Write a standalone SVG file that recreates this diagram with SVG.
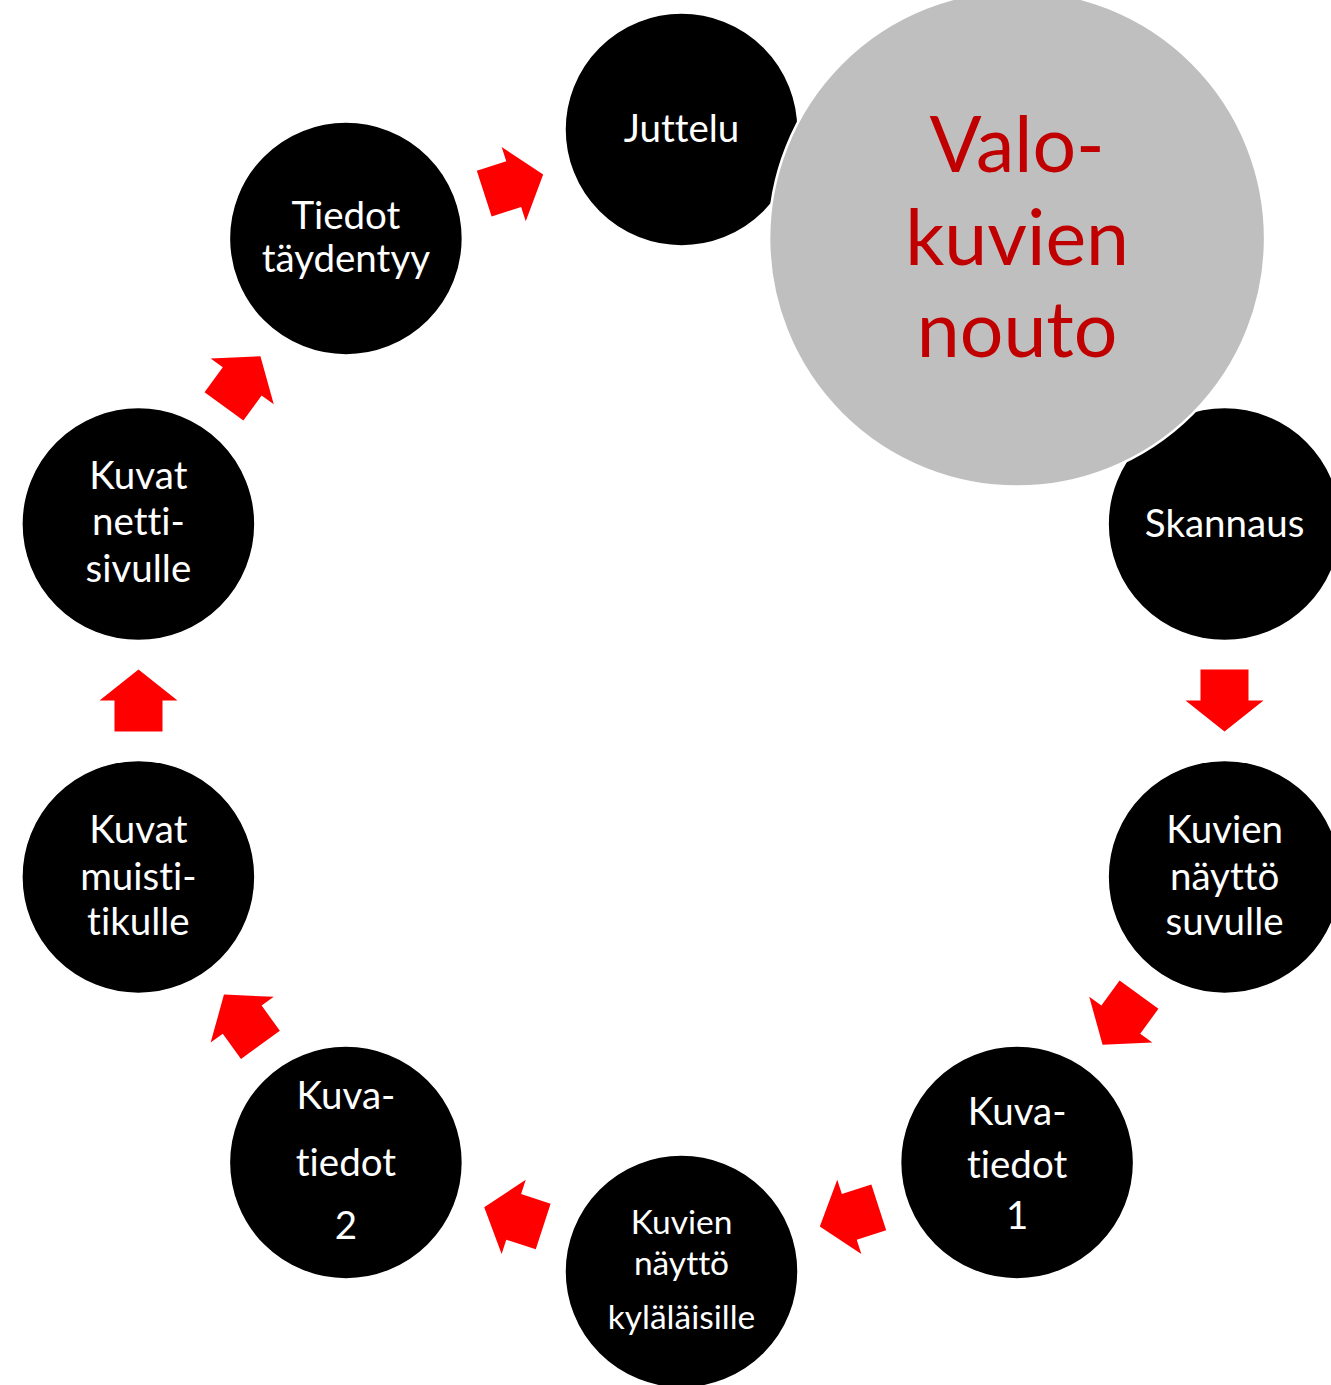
<svg xmlns="http://www.w3.org/2000/svg" width="1331" height="1385" viewBox="0 0 1331 1385">
<defs>
<style>
.node{fill:#000000;stroke:#FFFFFF;stroke-width:1.5}
.hub{fill:#BFBFBF;stroke:#FFFFFF;stroke-width:2.5}
.t{font-family:Lato,"Noto Sans",sans-serif;font-size:38.5px;fill:#FFFFFF;text-anchor:middle;font-variant-ligatures:none}
.ts{font-size:33.5px}
.th{font-family:Lato,"Noto Sans",sans-serif;font-size:77px;fill:#C00000;text-anchor:middle}
.arrow{fill:#FF0000}
</style>
<path id="arr" d="M-31,-24 L0,-24 L0,-39 L31,0 L0,39 L0,24 L-31,24 Z"/>
</defs>
<rect width="1331" height="1385" fill="#FFFFFF"/>
<g id="connectors" class="arrow">
<use href="#arr" transform="translate(1224.5,700.5) rotate(90)"/>
<use href="#arr" transform="translate(1120.8,1019.7) rotate(126)"/>
<use href="#arr" transform="translate(849.3,1216.9) rotate(162)"/>
<use href="#arr" transform="translate(513.7,1216.9) rotate(198)"/>
<use href="#arr" transform="translate(242.2,1019.7) rotate(234)"/>
<use href="#arr" transform="translate(138.5,700.5) rotate(270)"/>
<use href="#arr" transform="translate(242.2,381.3) rotate(306)"/>
<use href="#arr" transform="translate(513.7,184.1) rotate(342)"/>
</g>
<g id="juttelu">
<circle class="node" cx="681.5" cy="129.5" r="116.5"/>
<text class="t" x="681.5" y="142">Juttelu</text>
</g>
<g id="skannaus">
<circle class="node" cx="1224.6" cy="524.1" r="116.5"/>
<text class="t" x="1224.6" y="537">Skannaus</text>
</g>
<g id="valokuvien-nouto">
<circle class="hub" cx="1017.1" cy="238.5" r="248"/>
<text class="th" x="1017.1" y="172">Valo-</text>
<text class="th" x="1017.1" y="265">kuvien</text>
<text class="th" x="1017.1" y="357">nouto</text>
</g>
<g id="tiedot-taydentyy">
<circle class="node" cx="345.9" cy="238.5" r="116.5"/>
<text class="t" x="345.9" y="229">Tiedot</text>
<text class="t" x="345.9" y="272">täydentyy</text>
</g>
<g id="kuvat-nettisivulle">
<circle class="node" cx="138.4" cy="524.1" r="116.5"/>
<text class="t" x="138.4" y="489">Kuvat</text>
<text class="t" x="138.4" y="535">netti-</text>
<text class="t" x="138.4" y="582">sivulle</text>
</g>
<g id="kuvat-muistitikulle">
<circle class="node" cx="138.4" cy="876.9" r="116.5"/>
<text class="t" x="138.4" y="843">Kuvat</text>
<text class="t" x="138.4" y="890">muisti-</text>
<text class="t" x="138.4" y="935">tikulle</text>
</g>
<g id="kuvatiedot-2">
<circle class="node" cx="345.9" cy="1162.5" r="116.5"/>
<text class="t" x="345.9" y="1109">Kuva-</text>
<text class="t" x="345.9" y="1176">tiedot</text>
<text class="t" x="345.9" y="1239">2</text>
</g>
<g id="kuvien-naytto-kylalaisille">
<circle class="node" cx="681.5" cy="1271.5" r="116.5"/>
<text class="t ts" x="681.5" y="1234">Kuvien</text>
<text class="t ts" x="681.5" y="1275">näyttö</text>
<text class="t ts" x="681.5" y="1329">kyläläisille</text>
</g>
<g id="kuvatiedot-1">
<circle class="node" cx="1017.1" cy="1162.5" r="116.5"/>
<text class="t" x="1017.1" y="1125">Kuva-</text>
<text class="t" x="1017.1" y="1178">tiedot</text>
<text class="t" x="1017.1" y="1229">1</text>
</g>
<g id="kuvien-naytto-suvulle">
<circle class="node" cx="1224.6" cy="876.9" r="116.5"/>
<text class="t" x="1224.6" y="843">Kuvien</text>
<text class="t" x="1224.6" y="890">näyttö</text>
<text class="t" x="1224.6" y="935">suvulle</text>
</g>
</svg>
